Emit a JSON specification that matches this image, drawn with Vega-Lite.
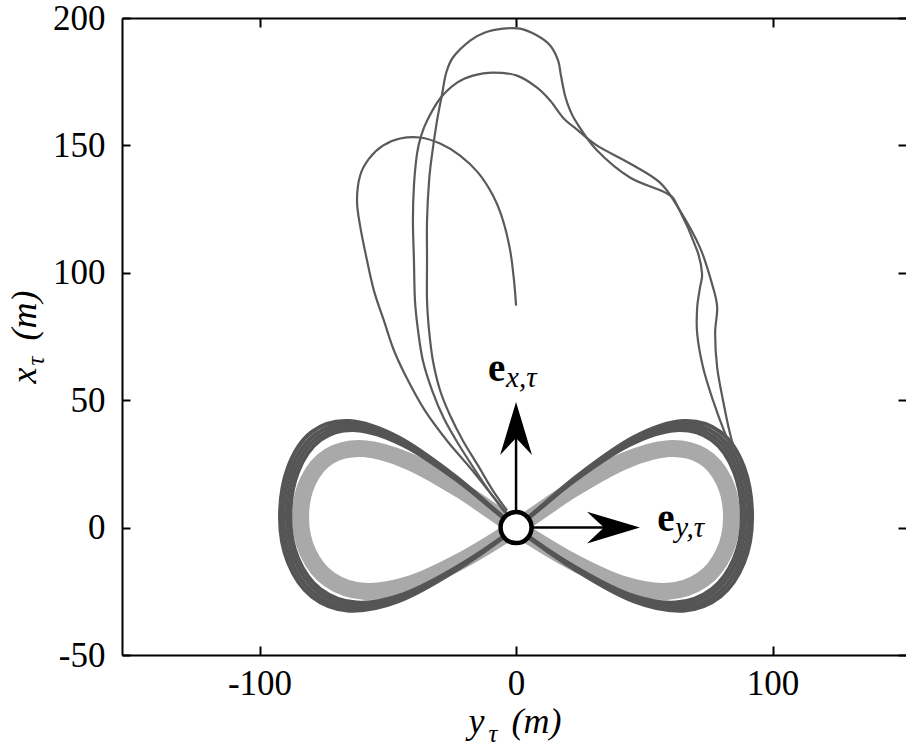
{
  "$schema": "https://vega.github.io/schema/vega-lite/v6.json",
  "width": 784,
  "height": 637,
  "autosize": {"type": "none"},
  "padding": {"left": 122, "top": 18, "right": 0, "bottom": 92},
  "background": "white",
  "config": {
    "view": {"stroke": null},
    "axis": {"grid": false, "domainColor": "black", "tickColor": "black", "labelColor": "black", "titleColor": "black",
             "domainWidth": 2, "tickWidth": 2, "labelFont": "Liberation Serif, Times New Roman, DejaVu Serif, serif", "labelFontSize": 35,
             "titleFont": "Liberation Serif, Times New Roman, DejaVu Serif, serif", "titleFontWeight": "normal", "titleFontStyle": "italic",
             "labelFlush": false, "labelOverlap": false,
             "labelExpr": "replace(datum.label, '\u2212', '-')"}
  },
  "datasets": {
    "ref": [
      {"i": 0, "yt": 0, "xt": 0}, {"i": 1, "yt": 21.7, "xt": 14.8}, {"i": 2, "yt": 42.0, "xt": 26.1},
      {"i": 3, "yt": 59.4, "xt": 31.0}, {"i": 4, "yt": 72.7, "xt": 28.1}, {"i": 5, "yt": 81.1, "xt": 18.2},
      {"i": 6, "yt": 84.0, "xt": 4.0}, {"i": 7, "yt": 81.1, "xt": -9.8}, {"i": 8, "yt": 72.7, "xt": -20.4},
      {"i": 9, "yt": 59.4, "xt": -25.0}, {"i": 10, "yt": 42.0, "xt": -22.4}, {"i": 11, "yt": 21.7, "xt": -13.2},
      {"i": 12, "yt": 0, "xt": 0}, {"i": 13, "yt": -21.7, "xt": 14.8}, {"i": 14, "yt": -42.0, "xt": 26.1},
      {"i": 15, "yt": -59.4, "xt": 31.0}, {"i": 16, "yt": -72.7, "xt": 28.1}, {"i": 17, "yt": -81.1, "xt": 18.2},
      {"i": 18, "yt": -84.0, "xt": 4.0}, {"i": 19, "yt": -81.1, "xt": -9.8}, {"i": 20, "yt": -72.7, "xt": -20.4},
      {"i": 21, "yt": -59.4, "xt": -25.0}, {"i": 22, "yt": -42.0, "xt": -22.4}, {"i": 23, "yt": -21.7, "xt": -13.2}
    ],
    "laps": [
      {"lap": 1, "i": 0, "yt": 0, "xt": 0}, {"lap": 1, "i": 1, "yt": 22.8, "xt": 18.4}, {"lap": 1, "i": 2, "yt": 44.0, "xt": 32.3},
      {"lap": 1, "i": 3, "yt": 62.2, "xt": 38.2}, {"lap": 1, "i": 4, "yt": 76.2, "xt": 34.4}, {"lap": 1, "i": 5, "yt": 85.0, "xt": 21.8},
      {"lap": 1, "i": 6, "yt": 88.0, "xt": 4.0}, {"lap": 1, "i": 7, "yt": 85.0, "xt": -12.0}, {"lap": 1, "i": 8, "yt": 76.2, "xt": -24.2},
      {"lap": 1, "i": 9, "yt": 62.2, "xt": -29.4}, {"lap": 1, "i": 10, "yt": 44.0, "xt": -26.2}, {"lap": 1, "i": 11, "yt": 22.8, "xt": -15.4},
      {"lap": 1, "i": 12, "yt": 0, "xt": 0}, {"lap": 1, "i": 13, "yt": -22.8, "xt": 18.4}, {"lap": 1, "i": 14, "yt": -44.0, "xt": 32.3},
      {"lap": 1, "i": 15, "yt": -62.2, "xt": 38.2}, {"lap": 1, "i": 16, "yt": -76.2, "xt": 34.4}, {"lap": 1, "i": 17, "yt": -85.0, "xt": 21.8},
      {"lap": 1, "i": 18, "yt": -88.0, "xt": 4.0}, {"lap": 1, "i": 19, "yt": -85.0, "xt": -12.0}, {"lap": 1, "i": 20, "yt": -76.2, "xt": -24.2},
      {"lap": 1, "i": 21, "yt": -62.2, "xt": -29.4}, {"lap": 1, "i": 22, "yt": -44.0, "xt": -26.2}, {"lap": 1, "i": 23, "yt": -22.8, "xt": -15.4},

      {"lap": 2, "i": 0, "yt": 0, "xt": 0}, {"lap": 2, "i": 1, "yt": 23.1, "xt": 19.0}, {"lap": 2, "i": 2, "yt": 44.7, "xt": 33.4},
      {"lap": 2, "i": 3, "yt": 63.1, "xt": 39.4}, {"lap": 2, "i": 4, "yt": 77.3, "xt": 35.4}, {"lap": 2, "i": 5, "yt": 86.3, "xt": 22.4},
      {"lap": 2, "i": 6, "yt": 89.3, "xt": 4.0}, {"lap": 2, "i": 7, "yt": 86.3, "xt": -12.5}, {"lap": 2, "i": 8, "yt": 77.3, "xt": -25.1},
      {"lap": 2, "i": 9, "yt": 63.1, "xt": -30.4}, {"lap": 2, "i": 10, "yt": 44.7, "xt": -27.1}, {"lap": 2, "i": 11, "yt": 23.1, "xt": -15.9},
      {"lap": 2, "i": 12, "yt": 0, "xt": 0}, {"lap": 2, "i": 13, "yt": -23.1, "xt": 19.0}, {"lap": 2, "i": 14, "yt": -44.7, "xt": 33.4},
      {"lap": 2, "i": 15, "yt": -63.1, "xt": 39.4}, {"lap": 2, "i": 16, "yt": -77.3, "xt": 35.4}, {"lap": 2, "i": 17, "yt": -86.3, "xt": 22.4},
      {"lap": 2, "i": 18, "yt": -89.3, "xt": 4.0}, {"lap": 2, "i": 19, "yt": -86.3, "xt": -12.5}, {"lap": 2, "i": 20, "yt": -77.3, "xt": -25.1},
      {"lap": 2, "i": 21, "yt": -63.1, "xt": -30.4}, {"lap": 2, "i": 22, "yt": -44.7, "xt": -27.1}, {"lap": 2, "i": 23, "yt": -23.1, "xt": -15.9},

      {"lap": 3, "i": 0, "yt": 0, "xt": 0}, {"lap": 3, "i": 1, "yt": 23.5, "xt": 19.6}, {"lap": 3, "i": 2, "yt": 45.4, "xt": 34.4},
      {"lap": 3, "i": 3, "yt": 64.1, "xt": 40.6}, {"lap": 3, "i": 4, "yt": 78.5, "xt": 36.4}, {"lap": 3, "i": 5, "yt": 87.6, "xt": 23.0},
      {"lap": 3, "i": 6, "yt": 90.7, "xt": 4.0}, {"lap": 3, "i": 7, "yt": 87.6, "xt": -13.1}, {"lap": 3, "i": 8, "yt": 78.5, "xt": -26.1},
      {"lap": 3, "i": 9, "yt": 64.1, "xt": -31.6}, {"lap": 3, "i": 10, "yt": 45.4, "xt": -28.1}, {"lap": 3, "i": 11, "yt": 23.5, "xt": -16.5},
      {"lap": 3, "i": 12, "yt": 0, "xt": 0}, {"lap": 3, "i": 13, "yt": -23.5, "xt": 19.6}, {"lap": 3, "i": 14, "yt": -45.4, "xt": 34.4},
      {"lap": 3, "i": 15, "yt": -64.1, "xt": 40.6}, {"lap": 3, "i": 16, "yt": -78.5, "xt": 36.4}, {"lap": 3, "i": 17, "yt": -87.6, "xt": 23.0},
      {"lap": 3, "i": 18, "yt": -90.7, "xt": 4.0}, {"lap": 3, "i": 19, "yt": -87.6, "xt": -13.1}, {"lap": 3, "i": 20, "yt": -78.5, "xt": -26.1},
      {"lap": 3, "i": 21, "yt": -64.1, "xt": -31.6}, {"lap": 3, "i": 22, "yt": -45.4, "xt": -28.1}, {"lap": 3, "i": 23, "yt": -23.5, "xt": -16.5},

      {"lap": 4, "i": 0, "yt": 0, "xt": 0}, {"lap": 4, "i": 1, "yt": 23.8, "xt": 20.2}, {"lap": 4, "i": 2, "yt": 46.0, "xt": 35.5},
      {"lap": 4, "i": 3, "yt": 65.1, "xt": 41.8}, {"lap": 4, "i": 4, "yt": 79.7, "xt": 37.5}, {"lap": 4, "i": 5, "yt": 88.9, "xt": 23.6},
      {"lap": 4, "i": 6, "yt": 92.0, "xt": 4.0}, {"lap": 4, "i": 7, "yt": 88.9, "xt": -13.6}, {"lap": 4, "i": 8, "yt": 79.7, "xt": -27.0},
      {"lap": 4, "i": 9, "yt": 65.1, "xt": -32.6}, {"lap": 4, "i": 10, "yt": 46.0, "xt": -29.0}, {"lap": 4, "i": 11, "yt": 23.8, "xt": -17.0},
      {"lap": 4, "i": 12, "yt": 0, "xt": 0}, {"lap": 4, "i": 13, "yt": -23.8, "xt": 20.2}, {"lap": 4, "i": 14, "yt": -46.0, "xt": 35.5},
      {"lap": 4, "i": 15, "yt": -65.1, "xt": 41.8}, {"lap": 4, "i": 16, "yt": -79.7, "xt": 37.5}, {"lap": 4, "i": 17, "yt": -88.9, "xt": 23.6},
      {"lap": 4, "i": 18, "yt": -92.0, "xt": 4.0}, {"lap": 4, "i": 19, "yt": -88.9, "xt": -13.6}, {"lap": 4, "i": 20, "yt": -79.7, "xt": -27.0},
      {"lap": 4, "i": 21, "yt": -65.1, "xt": -32.6}, {"lap": 4, "i": 22, "yt": -46.0, "xt": -29.0}, {"lap": 4, "i": 23, "yt": -23.8, "xt": -17.0}
    ],
    "arcs": [
      {"arc": "a", "i": 0, "yt": 0, "xt": 87.1}, {"arc": "a", "i": 1, "yt": -0.8, "xt": 97.0}, {"arc": "a", "i": 2, "yt": -2.3, "xt": 108.8},
      {"arc": "a", "i": 3, "yt": -5.1, "xt": 120.6}, {"arc": "a", "i": 4, "yt": -9.0, "xt": 130.3}, {"arc": "a", "i": 5, "yt": -14.8, "xt": 139.3},
      {"arc": "a", "i": 6, "yt": -21.8, "xt": 146.0}, {"arc": "a", "i": 7, "yt": -29.6, "xt": 150.7}, {"arc": "a", "i": 8, "yt": -37.4, "xt": 153.1},
      {"arc": "a", "i": 9, "yt": -45.2, "xt": 152.7}, {"arc": "a", "i": 10, "yt": -51.9, "xt": 149.9}, {"arc": "a", "i": 11, "yt": -57.3, "xt": 144.8},
      {"arc": "a", "i": 12, "yt": -60.8, "xt": 138.1}, {"arc": "a", "i": 13, "yt": -62.0, "xt": 128.3}, {"arc": "a", "i": 14, "yt": -60.8, "xt": 118.5},
      {"arc": "a", "i": 15, "yt": -58.5, "xt": 106.8}, {"arc": "a", "i": 16, "yt": -55.4, "xt": 93.0}, {"arc": "a", "i": 17, "yt": -51.5, "xt": 81.2},
      {"arc": "a", "i": 18, "yt": -47.6, "xt": 69.5}, {"arc": "a", "i": 19, "yt": -42.1, "xt": 57.7}, {"arc": "a", "i": 20, "yt": -35.5, "xt": 45.9},
      {"arc": "a", "i": 21, "yt": -26.9, "xt": 34.1}, {"arc": "a", "i": 22, "yt": -17.9, "xt": 23.5}, {"arc": "a", "i": 23, "yt": -10.1, "xt": 13.7},
      {"arc": "a", "i": 24, "yt": -3.9, "xt": 5.9}, {"arc": "a", "i": 25, "yt": 0, "xt": 0},

      {"arc": "b", "i": 0, "yt": -4.3, "xt": 5.9}, {"arc": "b", "i": 1, "yt": -10.1, "xt": 13.7}, {"arc": "b", "i": 2, "yt": -16.4, "xt": 23.2},
      {"arc": "b", "i": 3, "yt": -22.6, "xt": 33.0}, {"arc": "b", "i": 4, "yt": -28.1, "xt": 42.8}, {"arc": "b", "i": 5, "yt": -32.7, "xt": 53.8},
      {"arc": "b", "i": 6, "yt": -36.3, "xt": 65.5}, {"arc": "b", "i": 7, "yt": -38.2, "xt": 77.3}, {"arc": "b", "i": 8, "yt": -39.4, "xt": 89.1},
      {"arc": "b", "i": 9, "yt": -39.8, "xt": 104.8}, {"arc": "b", "i": 10, "yt": -40.2, "xt": 120.5}, {"arc": "b", "i": 11, "yt": -39.8, "xt": 134.2},
      {"arc": "b", "i": 12, "yt": -38.6, "xt": 146.8}, {"arc": "b", "i": 13, "yt": -37.0, "xt": 153.8}, {"arc": "b", "i": 14, "yt": -34.7, "xt": 159.7},
      {"arc": "b", "i": 15, "yt": -29.6, "xt": 168.4}, {"arc": "b", "i": 16, "yt": -23.0, "xt": 174.6}, {"arc": "b", "i": 17, "yt": -16.8, "xt": 177.4},
      {"arc": "b", "i": 18, "yt": -9.0, "xt": 178.6}, {"arc": "b", "i": 19, "yt": 0.4, "xt": 177.4}, {"arc": "b", "i": 20, "yt": 8.2, "xt": 172.7},
      {"arc": "b", "i": 21, "yt": 13.3, "xt": 167.6}, {"arc": "b", "i": 22, "yt": 18.3, "xt": 160.9}, {"arc": "b", "i": 23, "yt": 23.8, "xt": 156.2},
      {"arc": "b", "i": 24, "yt": 31.6, "xt": 149.9}, {"arc": "b", "i": 25, "yt": 44.4, "xt": 142.9}, {"arc": "b", "i": 26, "yt": 56.1, "xt": 135.4},
      {"arc": "b", "i": 27, "yt": 63.2, "xt": 125.6}, {"arc": "b", "i": 28, "yt": 71.7, "xt": 109.9}, {"arc": "b", "i": 29, "yt": 76.8, "xt": 94.2},
      {"arc": "b", "i": 30, "yt": 78.4, "xt": 86.3}, {"arc": "b", "i": 31, "yt": 77.6, "xt": 76.1}, {"arc": "b", "i": 32, "yt": 78.4, "xt": 62.8},
      {"arc": "b", "i": 33, "yt": 80.7, "xt": 49.8}, {"arc": "b", "i": 34, "yt": 83.4, "xt": 36.9}, {"arc": "b", "i": 35, "yt": 85.8, "xt": 28.3},

      {"arc": "c", "i": 0, "yt": -3.5, "xt": 6.7}, {"arc": "c", "i": 1, "yt": -9.0, "xt": 14.5}, {"arc": "c", "i": 2, "yt": -14.8, "xt": 24.3},
      {"arc": "c", "i": 3, "yt": -20.7, "xt": 34.1}, {"arc": "c", "i": 4, "yt": -25.7, "xt": 44.0}, {"arc": "c", "i": 5, "yt": -29.6, "xt": 53.8},
      {"arc": "c", "i": 6, "yt": -32.4, "xt": 65.5}, {"arc": "c", "i": 7, "yt": -33.9, "xt": 77.3}, {"arc": "c", "i": 8, "yt": -34.7, "xt": 89.1},
      {"arc": "c", "i": 9, "yt": -34.7, "xt": 104.8}, {"arc": "c", "i": 10, "yt": -34.7, "xt": 120.5}, {"arc": "c", "i": 11, "yt": -33.9, "xt": 136.2},
      {"arc": "c", "i": 12, "yt": -32.7, "xt": 146.8}, {"arc": "c", "i": 13, "yt": -30.8, "xt": 159.7}, {"arc": "c", "i": 14, "yt": -28.8, "xt": 170.3},
      {"arc": "c", "i": 15, "yt": -27.3, "xt": 178.2}, {"arc": "c", "i": 16, "yt": -24.6, "xt": 184.5}, {"arc": "c", "i": 17, "yt": -17.9, "xt": 191.1},
      {"arc": "c", "i": 18, "yt": -12.1, "xt": 194.3}, {"arc": "c", "i": 19, "yt": -5.1, "xt": 195.8}, {"arc": "c", "i": 20, "yt": 1.6, "xt": 195.8},
      {"arc": "c", "i": 21, "yt": 8.2, "xt": 193.1}, {"arc": "c", "i": 22, "yt": 13.3, "xt": 189.2}, {"arc": "c", "i": 23, "yt": 16.4, "xt": 183.3},
      {"arc": "c", "i": 24, "yt": 17.5, "xt": 177.4}, {"arc": "c", "i": 25, "yt": 19.1, "xt": 169.5}, {"arc": "c", "i": 26, "yt": 21.1, "xt": 163.7},
      {"arc": "c", "i": 27, "yt": 23.8, "xt": 158.6}, {"arc": "c", "i": 28, "yt": 31.6, "xt": 148.0}, {"arc": "c", "i": 29, "yt": 44.4, "xt": 137.4},
      {"arc": "c", "i": 30, "yt": 58.9, "xt": 131.1}, {"arc": "c", "i": 31, "yt": 63.2, "xt": 125.6}, {"arc": "c", "i": 32, "yt": 70.6, "xt": 108.7},
      {"arc": "c", "i": 33, "yt": 72.5, "xt": 99.7}, {"arc": "c", "i": 34, "yt": 71.7, "xt": 94.2}, {"arc": "c", "i": 35, "yt": 70.6, "xt": 86.3},
      {"arc": "c", "i": 36, "yt": 70.6, "xt": 76.1}, {"arc": "c", "i": 37, "yt": 72.9, "xt": 62.8}, {"arc": "c", "i": 38, "yt": 76.8, "xt": 49.8},
      {"arc": "c", "i": 39, "yt": 81.5, "xt": 36.9}, {"arc": "c", "i": 40, "yt": 85.0, "xt": 29.4}
    ],
    "shafts": [
      {"yt": 0, "xt": 0, "yt2": 0, "xt2": 37},
      {"yt": 0, "xt": 0, "yt2": 35, "xt2": 0}
    ],
    "heads": [
      {"yt": 0, "xt": 49.3, "dir": 0},
      {"yt": 48.3, "xt": 0, "dir": 90}
    ],
    "origin": [{"yt": 0, "xt": 0}],
    "basis": [
      {"yt": -10.9, "xt": 57.7, "main": "e", "sub": "x,τ"},
      {"yt": 55.0, "xt": -1.2, "main": "e", "sub": "y,τ"}
    ]
  },
  "resolve": {"axis": {"x": "independent", "y": "independent"}},
  "layer": [
    {
      "data": {"name": "ref"},
      "mark": {"type": "line", "interpolate": "cardinal-closed", "color": "#a9a9a9", "strokeWidth": 17, "strokeJoin": "round"},
      "encoding": {
        "x": {"field": "yt", "type": "quantitative",
              "scale": {"domain": [-153.6, 152], "nice": false, "zero": false},
              "axis": {"orient": "bottom", "values": [-100, 0, 100], "tickSize": -9, "labelPadding": 20,
                       "title": "y", "titleFontSize": 36, "titleX": 346, "titleY": 77,
                       "titleAlign": "left", "titleBaseline": "alphabetic"}},
        "y": {"field": "xt", "type": "quantitative",
              "scale": {"domain": [-50, 200], "nice": false, "zero": false},
              "axis": {"orient": "left", "values": [-50, 0, 50, 100, 150, 200], "tickSize": -8, "labelPadding": 25,
                       "labelBaseline": "middle",
                       "title": "x", "titleFontSize": 36, "titleAngle": -90, "titleX": -87, "titleY": 365,
                       "titleAlign": "left", "titleBaseline": "alphabetic"}},
        "order": {"field": "i", "type": "quantitative"}
      }
    },
    {
      "data": {"name": "laps"},
      "mark": {"type": "line", "interpolate": "cardinal-closed", "color": "#555555", "strokeWidth": 4, "strokeJoin": "round"},
      "encoding": {
        "x": {"field": "yt", "type": "quantitative",
              "axis": {"orient": "top", "values": [-100, 0, 100], "tickSize": -9, "labels": false, "title": null}},
        "y": {"field": "xt", "type": "quantitative",
              "axis": {"orient": "right", "values": [-50, 0, 50, 100, 150, 200], "tickSize": -8, "domain": false, "labels": false, "title": null}},
        "detail": {"field": "lap", "type": "nominal"},
        "order": {"field": "i", "type": "quantitative"}
      }
    },
    {
      "data": {"name": "arcs"},
      "mark": {"type": "line", "interpolate": "cardinal", "color": "#5a5a5a", "strokeWidth": 2.2},
      "encoding": {
        "x": {"field": "yt", "type": "quantitative",
              "axis": {"orient": "bottom", "domain": false, "ticks": false, "labels": false,
                       "title": "τ", "titleFontSize": 25, "titleX": 366, "titleY": 86,
                       "titleAlign": "left", "titleBaseline": "alphabetic"}},
        "y": {"field": "xt", "type": "quantitative",
              "axis": {"orient": "left", "domain": false, "ticks": false, "labels": false,
                       "title": "τ", "titleFontSize": 25, "titleAngle": -90, "titleX": -79, "titleY": 347,
                       "titleAlign": "left", "titleBaseline": "alphabetic"}},
        "detail": {"field": "arc", "type": "nominal"},
        "order": {"field": "i", "type": "quantitative"}
      }
    },
    {
      "data": {"name": "shafts"},
      "mark": {"type": "rule", "color": "black", "strokeWidth": 2.5},
      "encoding": {
        "x": {"field": "yt", "type": "quantitative",
              "axis": {"orient": "bottom", "domain": false, "ticks": false, "labels": false,
                       "title": "(m)", "titleFontSize": 36, "titleX": 389, "titleY": 77,
                       "titleAlign": "left", "titleBaseline": "alphabetic"}},
        "y": {"field": "xt", "type": "quantitative",
              "axis": {"orient": "left", "domain": false, "ticks": false, "labels": false,
                       "title": "(m)", "titleFontSize": 36, "titleAngle": -90, "titleX": -87, "titleY": 322,
                       "titleAlign": "left", "titleBaseline": "alphabetic"}},
        "x2": {"field": "yt2"},
        "y2": {"field": "xt2"}
      }
    },
    {
      "data": {"name": "heads"},
      "mark": {"type": "point", "shape": "M0,0L0.6,2L0,1.36L-0.6,2Z", "size": 2809, "filled": true,
               "color": "black", "opacity": 1, "strokeWidth": 0},
      "encoding": {
        "x": {"field": "yt", "type": "quantitative", "axis": null},
        "y": {"field": "xt", "type": "quantitative", "axis": null},
        "angle": {"field": "dir", "type": "quantitative", "scale": null}
      }
    },
    {
      "data": {"name": "origin"},
      "mark": {"type": "point", "shape": "circle", "size": 961, "filled": false, "fill": "white",
               "stroke": "black", "strokeWidth": 4.5, "opacity": 1, "fillOpacity": 1},
      "encoding": {
        "x": {"field": "yt", "type": "quantitative", "axis": null},
        "y": {"field": "xt", "type": "quantitative", "axis": null}
      }
    },
    {
      "data": {"name": "basis"},
      "mark": {"type": "text", "font": "Liberation Serif, Times New Roman, DejaVu Serif, serif", "fontWeight": "bold", "fontSize": 39,
               "align": "left", "baseline": "alphabetic", "color": "black"},
      "encoding": {
        "x": {"field": "yt", "type": "quantitative", "axis": null},
        "y": {"field": "xt", "type": "quantitative", "axis": null},
        "text": {"field": "main"}
      }
    },
    {
      "data": {"name": "basis"},
      "mark": {"type": "text", "font": "Liberation Serif, Times New Roman, DejaVu Serif, serif", "fontStyle": "italic", "fontSize": 29,
               "align": "left", "baseline": "alphabetic", "color": "black", "dx": 18, "dy": 6},
      "encoding": {
        "x": {"field": "yt", "type": "quantitative", "axis": null},
        "y": {"field": "xt", "type": "quantitative", "axis": null},
        "text": {"field": "sub"}
      }
    }
  ]
}
